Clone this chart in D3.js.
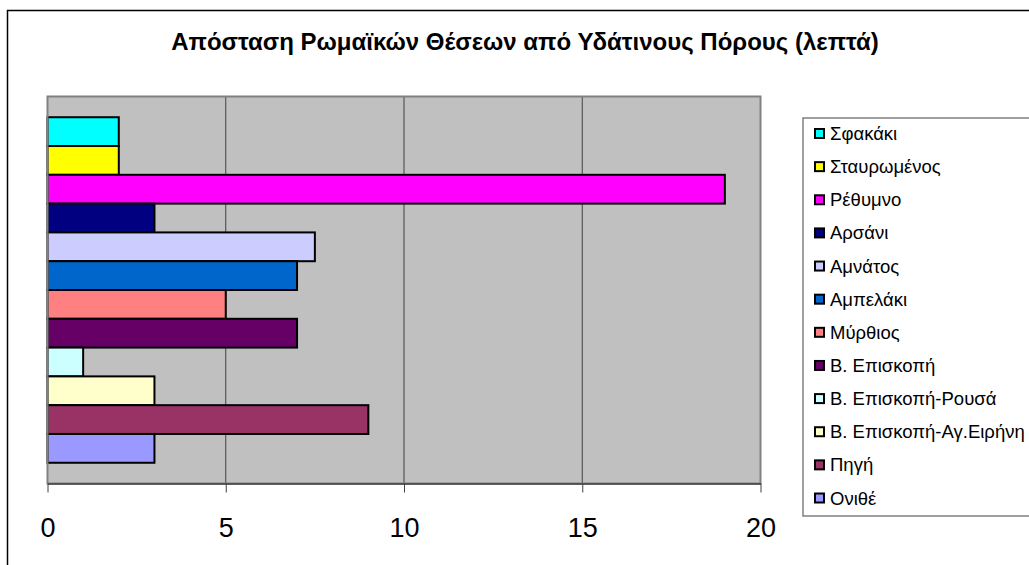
<!DOCTYPE html>
<html><head><meta charset="utf-8">
<script src="https://cdn.jsdelivr.net/npm/d3@7"></script>
<style>body{margin:0;background:#fff}svg{display:block}text{font-family:"Liberation Sans",Arial,sans-serif}</style>
</head><body>
<svg id="c" width="1029" height="565"></svg>
<script>
const title = "Απόσταση Ρωμαϊκών Θέσεων από Υδάτινους Πόρους (λεπτά)";
const categories = ["Σφακάκι","Σταυρωμένος","Ρέθυμνο","Αρσάνι","Αμνάτος","Αμπελάκι","Μύρθιος","Β. Επισκοπή","Β. Επισκοπή-Ρουσά","Β. Επισκοπή-Αγ.Ειρήνη","Πηγή","Ονιθέ"];
const values = [2,2,19,3,7.5,7,5,7,1,3,9,3];
const colors = ["#00FFFF","#FFFF00","#FF00FF","#000080","#CCCCFF","#0066CC","#FF8080","#660066","#CCFFFF","#FFFFCC","#993366","#9999FF"];
const xTicks = [0,5,10,15,20];

const svg = d3.select("#c");
// chart area frame
svg.append("rect").attr("x",7.5).attr("y",10.5).attr("width",1100).attr("height",600)
  .attr("fill","#fff").attr("stroke","#000").attr("stroke-width",1.5);

const L=47.5,R=760.5,T=96.5,B=483.5;
const x = d3.scaleLinear().domain([0,20]).range([L,R]);
const y = d3.scaleBand().domain(categories).range([T,B]).paddingInner(0).paddingOuter(0.72);

svg.append("rect").attr("x",L).attr("y",T).attr("width",R-L).attr("height",B-T).attr("fill","#C0C0C0");

// gridlines
svg.append("g").selectAll("line").data(xTicks.filter(d=>d>0&&d<20)).join("line")
  .attr("x1",d=>x(d)).attr("x2",d=>x(d)).attr("y1",T).attr("y2",B)
  .attr("stroke","#404040").attr("stroke-width",1);

// bars
svg.append("g").selectAll("rect").data(categories).join("rect")
  .attr("x",x(0)).attr("y",d=>y(d)).attr("width",(d,i)=>x(values[i])-x(0)).attr("height",y.bandwidth())
  .attr("fill",(d,i)=>colors[i]).attr("stroke","#000").attr("stroke-width",2);

// plot border
svg.append("rect").attr("x",L).attr("y",T).attr("width",R-L).attr("height",B-T)
  .attr("fill","none").attr("stroke","#808080").attr("stroke-width",2);

// x axis
const ax = svg.append("g").attr("transform",`translate(0,${B})`)
  .call(d3.axisBottom(x).tickValues(xTicks).tickSize(9).tickPadding(25).tickSizeOuter(0));
ax.select(".domain").attr("stroke","#404040").attr("stroke-width",1.5);
ax.selectAll(".tick line").attr("stroke","#404040");
ax.selectAll(".tick text").attr("font-size",27).attr("fill","#000")
  .attr("font-family","'Liberation Sans',Arial,sans-serif");

// title
svg.append("text").attr("x",525).attr("y",50).attr("text-anchor","middle")
  .attr("font-size",24).attr("font-weight","bold").text(title);

// legend
svg.append("rect").attr("x",803).attr("y",118).attr("width",300).attr("height",398)
  .attr("fill","#fff").attr("stroke","#808080").attr("stroke-width",1.5);
const ly = d3.scaleLinear().domain([0,categories.length-1]).range([133.5,498]);
const lg = svg.append("g").selectAll("g").data(categories).join("g")
  .attr("transform",(d,i)=>`translate(0,${ly(i)})`);
lg.append("rect").attr("x",815).attr("y",-4.5).attr("width",9).attr("height",9)
  .attr("fill",(d,i)=>colors[i]).attr("stroke","#000").attr("stroke-width",2);
lg.append("text").attr("x",830).attr("y",6.5).attr("font-size",18.5).text(d=>d);
</script>
</body></html>
